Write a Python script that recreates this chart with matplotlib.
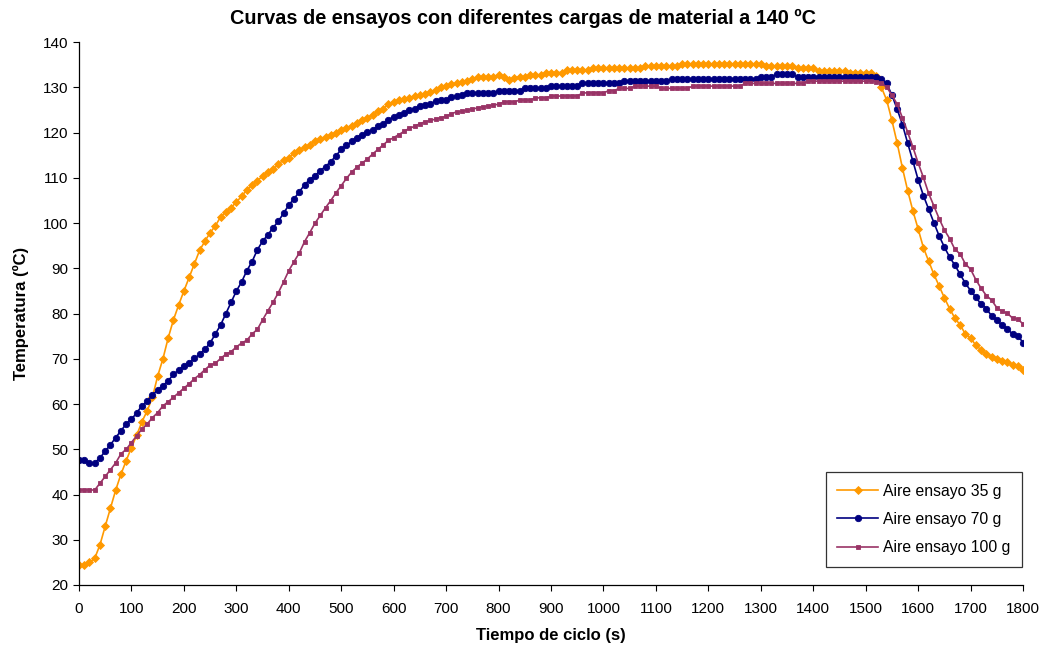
import matplotlib
matplotlib.use("Agg")
import matplotlib.pyplot as plt
import numpy as np

plt.rcParams["font.family"] = ["Liberation Sans", "DejaVu Sans"]

TITLE = "Curvas de ensayos con diferentes cargas de material a 140 ºC"
XLABEL = "Tiempo de ciclo (s)"
YLABEL = "Temperatura (ºC)"

# sample times, one reading every 10 s
tiempo = np.arange(0, 1801, 10)

aire_35 = [
    24.4, 24.4, 25.0, 25.9, 28.9, 33.0, 37.0, 41.0, 44.5, 47.5,
    50.4, 53.1, 56.1, 58.5, 61.5, 66.2, 70.0, 74.6, 78.6, 81.9,
    85.0, 88.0, 91.0, 94.0, 96.0, 97.9, 99.4, 101.4, 102.5, 103.4,
    104.7, 105.9, 107.4, 108.4, 109.4, 110.4, 111.3, 111.9, 113.0, 114.0,
    114.5, 115.5, 116.2, 116.8, 117.3, 118.2, 118.7, 119.0, 119.4, 120.0,
    120.6, 121.1, 121.5, 122.1, 122.9, 123.3, 124.0, 124.7, 125.3, 126.3,
    126.9, 127.2, 127.4, 127.7, 128.1, 128.4, 128.5, 128.9, 129.4, 130.0,
    130.4, 130.8, 130.9, 131.3, 131.5, 131.8, 132.3, 132.3, 132.3, 132.3,
    132.8, 132.3, 131.7, 132.2, 132.3, 132.3, 132.8, 132.8, 132.8, 133.3,
    133.3, 133.3, 133.3, 133.8, 133.8, 133.8, 133.8, 133.8, 134.3, 134.3,
    134.3, 134.3, 134.3, 134.3, 134.3, 134.3, 134.3, 134.3, 134.7, 134.7,
    134.7, 134.7, 134.7, 134.7, 134.7, 135.2, 135.2, 135.2, 135.2, 135.2,
    135.2, 135.2, 135.2, 135.2, 135.2, 135.2, 135.2, 135.2, 135.2, 135.2,
    135.2, 134.7, 134.7, 134.7, 134.7, 134.7, 134.7, 134.2, 134.2, 134.2,
    134.2, 133.7, 133.7, 133.7, 133.7, 133.7, 133.7, 133.3, 133.3, 133.3,
    133.3, 133.3, 132.6, 130.0, 127.2, 122.7, 117.7, 112.2, 107.2, 102.7,
    98.7, 94.6, 91.6, 88.7, 86.1, 83.5, 81.1, 79.0, 77.5, 75.5,
    74.6, 73.0, 72.0, 71.0, 70.5, 70.0, 69.5, 69.4, 68.7, 68.5,
    67.5,
]

aire_70 = [
    47.6, 47.6, 47.0, 47.0, 48.1, 49.6, 51.0, 52.6, 54.1, 55.6,
    56.6, 58.1, 59.6, 60.6, 62.0, 63.1, 64.1, 65.1, 66.6, 67.5,
    68.5, 69.0, 70.1, 71.0, 72.1, 73.5, 75.5, 77.5, 80.0, 82.5,
    85.0, 87.0, 89.5, 91.5, 94.1, 96.0, 97.4, 99.0, 100.4, 102.2,
    104.0, 105.4, 106.9, 108.5, 109.6, 110.5, 111.6, 112.5, 113.6, 114.9,
    116.3, 117.2, 118.1, 118.9, 119.6, 120.1, 120.7, 121.4, 122.0, 122.9,
    123.5, 123.9, 124.4, 125.0, 125.3, 125.9, 126.1, 126.4, 127.0, 127.3,
    127.3, 127.8, 128.1, 128.3, 128.7, 128.8, 128.8, 128.8, 128.8, 128.8,
    129.3, 129.3, 129.3, 129.3, 129.3, 129.8, 129.8, 129.8, 129.8, 129.8,
    130.3, 130.3, 130.3, 130.3, 130.3, 130.3, 130.9, 130.9, 130.9, 130.9,
    130.9, 130.9, 130.9, 130.9, 131.4, 131.4, 131.4, 131.4, 131.4, 131.4,
    131.4, 131.4, 131.4, 131.9, 131.9, 131.9, 131.9, 131.9, 131.9, 131.9,
    131.9, 131.9, 131.9, 131.9, 131.9, 131.9, 131.9, 131.9, 131.9, 131.9,
    132.4, 132.4, 132.4, 132.9, 132.9, 132.9, 132.9, 132.4, 132.4, 132.4,
    132.4, 132.4, 132.4, 132.4, 132.4, 132.4, 132.4, 132.4, 132.4, 132.4,
    132.4, 132.4, 132.4, 131.8, 130.9, 128.3, 125.2, 121.8, 117.7, 113.7,
    109.6, 106.1, 103.1, 100.1, 97.2, 94.7, 92.5, 90.7, 88.7, 86.7,
    85.1, 83.6, 82.1, 81.1, 79.5, 78.5, 77.5, 76.6, 75.5, 75.1,
    73.6,
]

aire_100 = [
    41.0, 41.0, 41.0, 41.0, 42.5, 44.0, 45.5, 47.0, 49.0, 50.0,
    51.5, 53.0, 54.5, 55.6, 57.0, 58.1, 59.6, 60.5, 61.5, 62.5,
    63.5, 64.5, 65.6, 66.5, 67.6, 68.6, 69.0, 70.1, 71.0, 71.6,
    72.6, 73.5, 74.1, 75.5, 76.5, 78.6, 80.6, 82.5, 84.6, 87.0,
    89.5, 91.5, 93.4, 95.9, 97.9, 100.0, 101.7, 103.4, 105.0, 106.7,
    108.3, 109.9, 111.3, 112.4, 113.3, 114.2, 115.3, 116.3, 117.3, 118.3,
    118.9, 119.6, 120.3, 121.0, 121.4, 122.0, 122.4, 122.7, 123.0, 123.3,
    123.6, 124.2, 124.6, 124.7, 125.0, 125.2, 125.5, 125.7, 125.9, 126.1,
    126.3, 126.8, 126.8, 126.8, 127.2, 127.2, 127.2, 127.7, 127.7, 127.7,
    128.1, 128.1, 128.1, 128.1, 128.1, 128.1, 128.8, 128.8, 128.8, 128.8,
    128.8, 129.3, 129.3, 129.8, 129.8, 129.8, 130.3, 130.3, 130.3, 130.3,
    130.3, 129.8, 129.8, 129.8, 129.8, 129.8, 129.8, 130.3, 130.3, 130.3,
    130.3, 130.3, 130.3, 130.3, 130.3, 130.3, 130.3, 130.9, 130.9, 130.9,
    130.9, 130.9, 130.9, 130.9, 130.9, 130.9, 130.9, 130.9, 130.9, 131.4,
    131.4, 131.4, 131.4, 131.4, 131.4, 131.4, 131.4, 131.4, 131.4, 131.4,
    131.4, 131.4, 131.3, 130.9, 130.1, 128.3, 126.3, 123.3, 120.1, 116.8,
    113.3, 110.1, 106.6, 103.8, 101.0, 98.5, 96.6, 94.2, 93.2, 91.0,
    89.8, 87.5, 85.6, 84.0, 83.0, 81.3, 80.5, 80.1, 79.0, 78.8,
    77.7,
]

series = [
    ("Aire ensayo 35 g", aire_35, "#FF9900", "D", 3.6),
    ("Aire ensayo 70 g", aire_70, "#000080", "o", 4.6),
    ("Aire ensayo 100 g", aire_100, "#993366", "s", 2.8),
]

fig = plt.figure(figsize=(10.45, 6.5), dpi=100)
ax = fig.add_axes([0.0756, 0.1, 0.9034, 0.835])

for name, vals, col, mk, ms in series:
    ax.plot(tiempo, vals, color=col, marker=mk, markersize=ms,
            markeredgewidth=0.6, markeredgecolor=col, linewidth=1.2, label=name)

ax.set_xlim(0, 1800)
ax.set_ylim(20, 140)
ax.set_xticks(np.arange(0, 1801, 100))
ax.set_yticks(np.arange(20, 141, 10))
ax.tick_params(labelsize=11, direction="out", length=4, width=0.8, colors="black")
ax.tick_params(axis="x", pad=8)
ax.spines["top"].set_visible(False)
ax.spines["right"].set_visible(False)
for s in ("left", "bottom"):
    ax.spines[s].set_linewidth(0.9)

ax.set_xlabel(XLABEL, fontsize=12, fontweight="bold", labelpad=9)
ax.set_ylabel(YLABEL, fontsize=12, fontweight="bold", labelpad=10)
fig.suptitle(TITLE, fontsize=14.3, fontweight="bold", y=0.987)

leg = ax.legend(loc="lower right", bbox_to_anchor=(0.999, 0.033), fontsize=11.3,
                frameon=True, fancybox=False, edgecolor="black",
                labelspacing=0.85, handlelength=2.6, borderpad=0.75,
                handletextpad=0.3, borderaxespad=0)
leg.get_frame().set_linewidth(0.9)

fig.savefig("out.png", dpi=100)
